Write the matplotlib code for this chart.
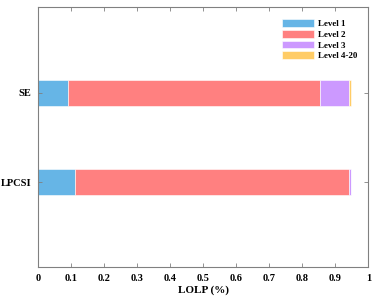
import numpy as np
import matplotlib.pyplot as plt

methods = ['LPCSI', 'SE']
levels = ['Level 1', 'Level 2', 'Level 3', 'Level 4-20']
# LOLP contribution of each level, per method (LPCSI, SE)
level1 = [0.112, 0.090]
level2 = [0.830, 0.762]
level3 = [0.006, 0.090]
level4_20 = [0.0005, 0.006]
xticks = [0, 0.1, 0.2, 0.3, 0.4, 0.5, 0.6, 0.7, 0.8, 0.9, 1]

colors = ['#66b5e6', '#ff8080', '#cc99ff', '#ffcc66']

plt.rcParams['font.family'] = ['Liberation Serif', 'DejaVu Serif']
plt.rcParams['font.weight'] = 'bold'

fig = plt.figure(figsize=(3.75, 3.02), dpi=100)
ax = fig.add_axes([38.3 / 375, 35 / 302, 330.2 / 375, 260 / 302])

y = np.arange(1, len(methods) + 1)
left = np.zeros(len(methods))
for name, vals, c in zip(levels, [level1, level2, level3, level4_20], colors):
    ax.barh(y, vals, left=left, height=0.29, color=c, edgecolor='white',
            linewidth=0.4, label=name)
    left += np.array(vals)

ax.set_xlim(0, 1)
ax.set_ylim(0.055, 2.955)
ax.set_xticks(xticks)
ax.set_xticklabels([f'{t:g}' for t in xticks])
ax.set_yticks(y)
ax.set_yticklabels(methods)
ax.tick_params(direction='in', length=3, width=0.6, color='#808080',
               labelsize=7.5, top=True, right=True, pad=5)
for s in ax.spines.values():
    s.set_color('#808080')
    s.set_linewidth(0.8)
ax.set_xlabel('LOLP (%)', fontsize=8, fontweight='bold', labelpad=2)

ax.legend(loc='upper right', frameon=False, fontsize=6.5, handlelength=3.5,
          handleheight=0.95, handletextpad=0.4, labelspacing=0.2,
          bbox_to_anchor=(0.99, 0.985))

fig.savefig('out.png', dpi=100, facecolor='white')
